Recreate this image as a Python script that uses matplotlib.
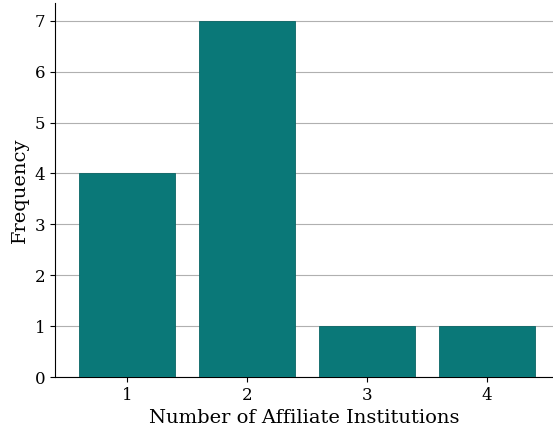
import matplotlib
matplotlib.use('Agg')
import matplotlib.pyplot as plt

institutions = [1, 2, 3, 4]
frequency = [4, 7, 1, 1]

plt.rcParams['font.family'] = 'DejaVu Serif'

fig = plt.figure(figsize=(5.53, 4.28), dpi=100)
ax = fig.add_axes([0.0995, 0.119, 0.9005, 0.874])

ax.bar(institutions, frequency, width=0.8, color='#0a7878', edgecolor='#0a6565', linewidth=0.6, zorder=3)
ax.set_xlim(0.4, 4.55)
ax.set_ylim(0, 7.35)
ax.set_xticks(institutions)
ax.set_yticks(range(0, 8))
ax.yaxis.grid(True, color='#b0b0b0', linewidth=0.8, zorder=0)
ax.tick_params(labelsize=12)
ax.spines['top'].set_visible(False)
ax.spines['right'].set_visible(False)
ax.set_xlabel('Number of Affiliate Institutions', fontsize=14)
ax.set_ylabel('Frequency', fontsize=14)

fig.savefig('out.png', dpi=100)
